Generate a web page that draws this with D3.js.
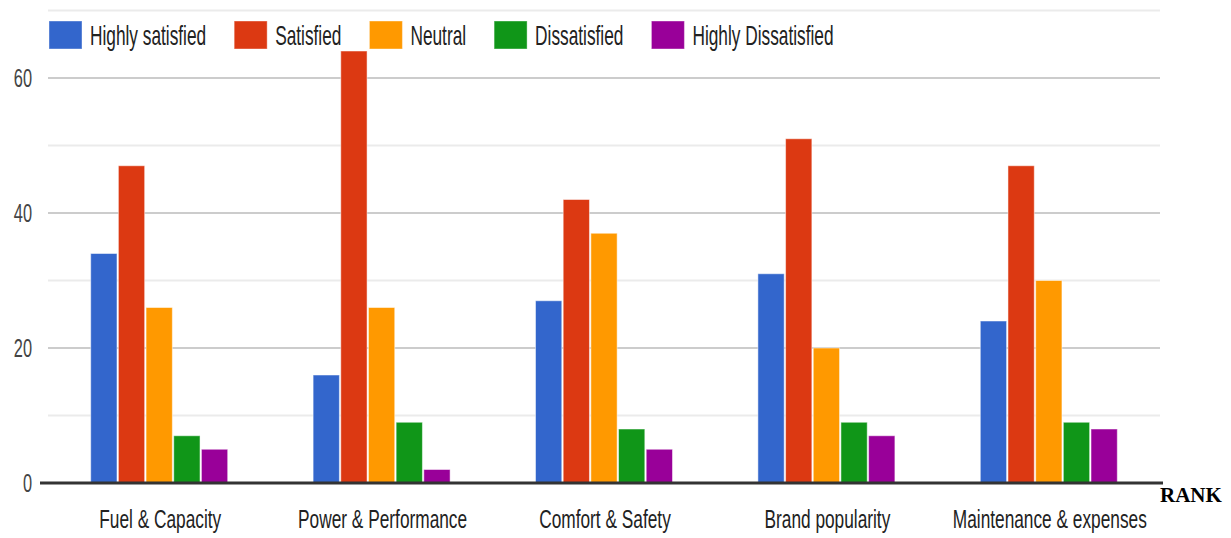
<!DOCTYPE html>
<html>
<head>
<meta charset="utf-8">
<script src="https://cdn.jsdelivr.net/npm/d3@7"></script>
<style>
  body { margin: 0; background: #fff; }
  svg { display: block; }
</style>
</head>
<body>
<div id="vis"></div>
<script>
var width = 1231;
var height = 538;

// data
const categories = ["Fuel & Capacity", "Power & Performance", "Comfort & Safety", "Brand popularity", "Maintenance & expenses"];
const seriesNames = ["Highly satisfied", "Satisfied", "Neutral", "Dissatisfied", "Highly Dissatisfied"];
const highlySatisfied = [34, 16, 27, 31, 24];
const satisfied = [47, 64, 42, 51, 47];
const neutral = [26, 26, 37, 20, 30];
const dissatisfied = [7, 9, 8, 9, 9];
const highlyDissatisfied = [5, 2, 5, 7, 8];
const yTicks = [0, 20, 40, 60];
const gridTicks = [10, 20, 30, 40, 50, 60, 70];

const COLORS = ["#3366cc", "#dc3912", "#ff9900", "#109618", "#990099"];
const seriesValues = [highlySatisfied, satisfied, neutral, dissatisfied, highlyDissatisfied];
const SQUEEZE = 0.63; // text in the picture is horizontally condensed

var svg = d3.select("#vis").append("svg")
  .attr("width", width)
  .attr("height", height);

var x0 = d3.scaleBand()
  .domain(categories)
  .range([48, 1160])
  .paddingInner(0.384)
  .paddingOuter(0.192);

var x1 = d3.scaleBand()
  .domain(seriesNames)
  .range([0, x0.bandwidth()])
  .paddingInner(0.05);

var y = d3.scaleLinear().domain([0, 70]).range([483, 10.5]);

// gridlines
svg.append("g")
  .selectAll("line")
  .data(gridTicks)
  .enter()
  .append("line")
  .attr("x1", 48)
  .attr("x2", 1160)
  .attr("y1", function (d) { return y(d); })
  .attr("y2", function (d) { return y(d); })
  .attr("stroke", function (d) { return d % 20 == 0 ? "#cccccc" : "#ebebeb"; })
  .attr("stroke-width", 2);

// bars
var rows = [];
categories.forEach(function (c, i) {
  seriesNames.forEach(function (s, j) {
    rows.push({ cat: c, series: s, value: seriesValues[j][i], color: COLORS[j] });
  });
});

svg.append("g")
  .selectAll(".bar")
  .data(rows)
  .enter()
  .append("rect")
  .attr("class", "bar")
  .attr("x", function (d) { return x0(d.cat) + x1(d.series); })
  .attr("y", function (d) { return y(d.value); })
  .attr("width", x1.bandwidth())
  .attr("height", function (d) { return y(0) - y(d.value); })
  .attr("fill", function (d) { return d.color; })
  .attr("stroke", "#ffffff")
  .attr("stroke-opacity", 0.5)
  .attr("stroke-width", 1);

// baseline
svg.append("line")
  .attr("x1", 40)
  .attr("x2", 1163)
  .attr("y1", y(0))
  .attr("y2", y(0))
  .attr("stroke", "#333333")
  .attr("stroke-width", 3);

// y tick labels
svg.append("g")
  .selectAll("text")
  .data(yTicks)
  .enter()
  .append("text")
  .attr("transform", function (d) {
    return "translate(32," + (y(d) + 9) + ") scale(" + SQUEEZE + ",1)";
  })
  .attr("text-anchor", "end")
  .attr("font-family", "Liberation Sans, Arial, sans-serif")
  .attr("font-size", 26)
  .attr("fill", "#444444")
  .text(function (d) { return d; });

// x labels
svg.append("g")
  .selectAll("text")
  .data(categories)
  .enter()
  .append("text")
  .attr("transform", function (d) {
    return "translate(" + (x0(d) + x0.bandwidth() / 2 + 1) + ",528) scale(0.665,1)";
  })
  .attr("text-anchor", "middle")
  .attr("font-family", "Liberation Sans, Arial, sans-serif")
  .attr("font-size", 26)
  .attr("fill", "#222222")
  .text(function (d) { return d; });

// legend
var lx = 49;
var legend = svg.append("g");
seriesNames.forEach(function (s, i) {
  legend.append("rect")
    .attr("x", lx)
    .attr("y", 21)
    .attr("width", 33)
    .attr("height", 28)
    .attr("fill", COLORS[i])
    .attr("stroke", "#ffffff")
    .attr("stroke-opacity", 0.4);
  var t = legend.append("text")
    .attr("transform", "translate(" + (lx + 41) + ",45) scale(0.64,1)")
    .attr("font-family", "Liberation Sans, Arial, sans-serif")
    .attr("font-size", 27)
    .attr("fill", "#222222")
    .text(s);
  lx += 41 + t.node().getComputedTextLength() * 0.64 + 28;
});

// axis title
svg.append("text")
  .attr("x", 1160)
  .attr("y", 502)
  .attr("font-family", "Liberation Serif, Times New Roman, serif")
  .attr("font-weight", "bold")
  .attr("font-size", 21)
  .attr("fill", "#000000")
  .text("RANK");
</script>
</body>
</html>
